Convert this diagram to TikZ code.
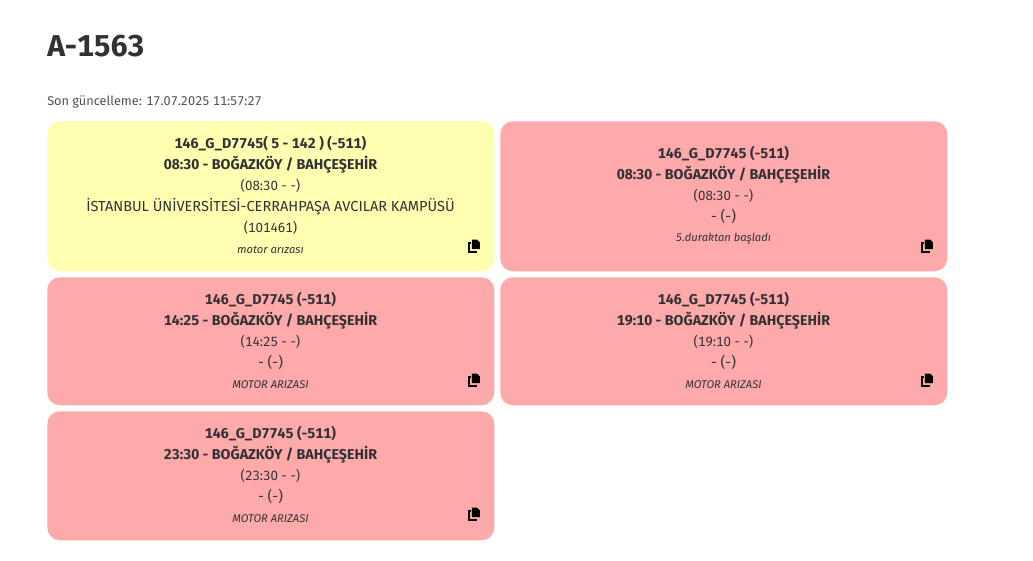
\documentclass[tikz,border=0pt]{standalone}
\usepackage{fontspec}
\setmainfont[Numbers={Lining,Monospaced}]{Fira Sans}
\usepackage{xcolor}
\usetikzlibrary{positioning}
\definecolor{inktext}{RGB}{50,50,54}
\definecolor{cardyellow}{RGB}{255,255,178}
\definecolor{cardred}{RGB}{255,170,170}
\newcommand{\copyicon}[2]{%
  \draw[line width=1.5pt,black] (#1-3.2,#2-3) -- (#1-5,#2-3) -- (#1-5,#2+5.8) -- (#1+3,#2+5.8);
  \fill[black] (#1-2.2,#2-6.5) -- (#1+3,#2-6.5) -- (#1+5.8,#2-3.7) -- (#1+5.8,#2+3.2) -- (#1-2.2,#2+3.2) -- cycle;
}
\tikzset{
  card/.style={rounded corners=9.5pt,minimum width=335.25pt,inner sep=0pt,anchor=north west},
  lineb/.style={font=\fontsize{10.7pt}{12pt}\selectfont\bfseries,text=inktext,inner sep=0pt},
  liner/.style={font=\fontsize{10.9pt}{12pt}\selectfont,text=inktext,inner sep=0pt,yshift=0.4pt},
  linen/.style={font=\fontsize{10pt}{12pt}\selectfont,text=inktext,inner sep=0pt,yshift=0.4pt},
  linei/.style={font=\fontsize{8.4pt}{10pt}\selectfont\itshape,text=inktext,inner sep=0pt},
}
\begin{document}
\begin{tikzpicture}[x=0.75pt,y=-0.75pt]
\useasboundingbox (0,0) rectangle (1033,561);
\fill[white] (0,0) rectangle (1033,561);

% Heading
\node[anchor=base west,inner sep=0pt,text=inktext,font=\fontsize{22.6pt}{26pt}\selectfont\bfseries] (title) at (47,56) {A-1563};
\node[anchor=base west,inner sep=0pt,text=inktext!85,font=\fontsize{9.55pt}{12pt}\selectfont] (updated) at (47,105) {Son güncelleme: 17.07.2025 11:57:27};

% Cards
\node[card,fill=cardyellow,minimum height=112.5pt] (cardA) at (47,121) {};
\node[card,fill=cardred,minimum height=112.5pt] (cardB) at (500,121) {};
\node[card,fill=cardred,minimum height=96pt] (cardC) at (47,277) {};
\node[card,fill=cardred,minimum height=96pt] (cardD) at (500,277) {};
\node[card,fill=cardred,minimum height=96.75pt] (cardE) at (47,411) {};

% Yellow card
\node[lineb] (a1) at (270.5,144) {146\_G\_D7745( 5 - 142 ) (-511)};
\node[lineb] (a2) at (270.5,165) {08:30 - BOĞAZKÖY / BAHÇEŞEHİR};
\node[linen] (a3) at (270.5,186) {(08:30 - -)};
\node[liner] (a4) at (270.5,207) {İSTANBUL ÜNİVERSİTESİ-CERRAHPAŞA AVCILAR KAMPÜSÜ};
\node[linen] (a5) at (270.5,228) {(101461)};
\node[linei] (a6) at (270.5,250) {motor arızası};
\copyicon{474}{246}

% Red card, top right
\node[lineb] (b1) at (723.5,154) {146\_G\_D7745 (-511)};
\node[lineb] (b2) at (723.5,175) {08:30 - BOĞAZKÖY / BAHÇEŞEHİR};
\node[linen] (b3) at (723.5,196) {(08:30 - -)};
\node[liner] (b4) at (723.5,217) {- (-)};
\node[linei] (b5) at (723.5,239) {5.duraktan başladı};
\copyicon{927}{246}

% Remaining red cards
\foreach \nm/\cx/\ty/\tm in {c/270.5/300/14:25,d/723.5/300/19:10,e/270.5/434/23:30}{
  \node[lineb] (\nm1) at (\cx,\ty) {146\_G\_D7745 (-511)};
  \node[lineb] (\nm2) at (\cx,\ty+21) {\tm{} - BOĞAZKÖY / BAHÇEŞEHİR};
  \node[linen] (\nm3) at (\cx,\ty+42) {(\tm{} - -)};
  \node[liner] (\nm4) at (\cx,\ty+63) {- (-)};
  \node[linei] (\nm5) at (\cx,\ty+85) {MOTOR ARIZASI};
  \copyicon{\cx+203.5}{\ty+80}
}
\end{tikzpicture}
\end{document}
